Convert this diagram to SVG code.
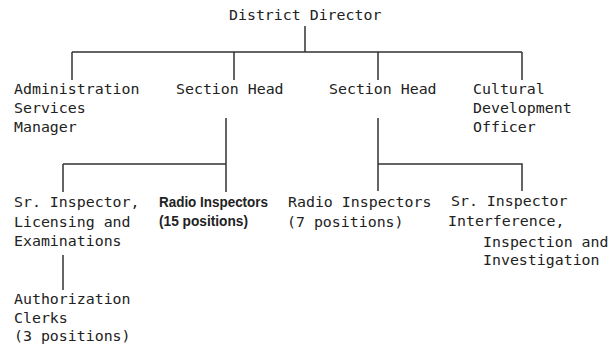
<svg xmlns="http://www.w3.org/2000/svg" width="613" height="354" viewBox="0 0 613 354">
<style>
.t{font-family:"DejaVu Sans Mono","Liberation Mono",monospace;font-size:14.9px;fill:#222}
.b{font-family:"Liberation Sans Narrow","Liberation Sans",sans-serif;font-size:14px;font-weight:bold;fill:#222}
.c{stroke:#333;stroke-width:1.5;fill:none}
</style>
<rect width="613" height="354" fill="#fff"/>
<g id="connectors" class="c">
<path d="M305 26V52M72 52H522M72 52V80M234 52V80M378 52V80M522 52V80"/>
<path d="M226 118V164M63 164H226M63 164V192M226 164V192"/>
<path d="M378 118V164H522V191M378 164V191"/>
<path d="M63 255V290"/>
</g>
<g id="director"><text class="t" x="229" y="20">District Director</text></g>
<g id="admin"><text class="t" x="14" y="94">Administration<tspan x="14" y="113">Services</tspan><tspan x="14" y="132">Manager</tspan></text></g>
<g id="section1"><text class="t" x="176" y="94">Section Head</text></g>
<g id="section2"><text class="t" x="329" y="94">Section Head</text></g>
<g id="cultural"><text class="t" x="473" y="94">Cultural<tspan x="473" y="113">Development</tspan><tspan x="473" y="132">Officer</tspan></text></g>
<g id="srlicensing"><text class="t" x="14" y="207">Sr. Inspector,<tspan x="14" y="227">Licensing and</tspan><tspan x="14" y="246">Examinations</tspan></text></g>
<g id="radio15"><text class="b" x="159" y="207" textLength="109" lengthAdjust="spacingAndGlyphs">Radio Inspectors</text><text class="b" x="159" y="226" textLength="89" lengthAdjust="spacingAndGlyphs">(15 positions)</text></g>
<g id="radio7"><text class="t" x="288" y="207">Radio Inspectors<tspan x="287" y="227">(7 positions)</tspan></text></g>
<g id="srinterference"><text class="t" x="451" y="206">Sr. Inspector<tspan x="448" y="226">Interference,</tspan><tspan x="483" y="247">Inspection and</tspan><tspan x="483" y="265">Investigation</tspan></text></g>
<g id="clerks"><text class="t" x="14" y="304">Authorization<tspan x="14" y="323">Clerks</tspan><tspan x="14" y="341">(3 positions)</tspan></text></g>
</svg>
